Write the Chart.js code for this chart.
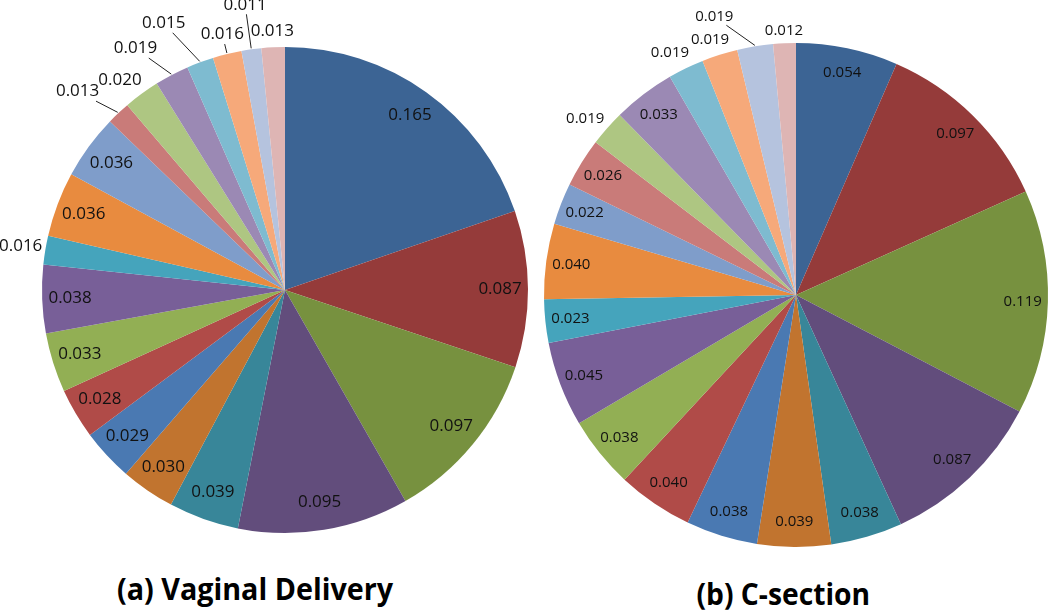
<!DOCTYPE html>
<html>
<head>
<meta charset="utf-8">
<script src="https://cdn.jsdelivr.net/npm/chart.js@4/dist/chart.umd.min.js"></script>
<style>
  body { margin: 0; background: #fff; width: 1050px; height: 610px; position: relative; overflow: hidden; }
  canvas { position: absolute; }
  #pieA { left: 0; top: 0; }
  #pieB { left: 530px; top: 0; }
  .caption {
    position: absolute; font-family: "Open Sans", sans-serif; font-weight: bold;
    font-size: 31px; color: #000; white-space: nowrap; line-height: 1;
    transform-origin: center center;
  }
</style>
</head>
<body>
<canvas id="pieA" width="560" height="560"></canvas>
<canvas id="pieB" width="520" height="560"></canvas>
<div class="caption" id="capA">(a) Vaginal Delivery</div>
<div class="caption" id="capB">(b) C-section</div>
<script>
// slice values, clockwise from 12 o'clock
var vaginalValues = [0.165, 0.087, 0.097, 0.095, 0.039, 0.030, 0.029, 0.028, 0.033, 0.038,
                     0.016, 0.036, 0.036, 0.013, 0.020, 0.019, 0.015, 0.016, 0.011, 0.013];
var csectionValues = [0.054, 0.097, 0.119, 0.087, 0.038, 0.039, 0.038, 0.040, 0.038, 0.045,
                      0.023, 0.040, 0.022, 0.026, 0.019, 0.033, 0.019, 0.019, 0.019, 0.012];
var sliceLabels = [];
for (var i = 1; i <= 20; i++) { sliceLabels.push('Category ' + i); }

// Excel-like palette: dark, base, light rounds
var sliceColors = [
    '#3C6494', '#953B3A', '#77913F', '#624D7C', '#388699', '#C1742F',
    '#4A79B2', '#B04B48', '#92AF54', '#785F98', '#45A4BC', '#E88B3F',
    '#7F9DCA', '#C97B79', '#AEC682', '#9B89B4', '#7EBBD0', '#F6A97A',
    '#B5C3DE', '#DEB5B4'
];

var labelFont = '"Open Sans", sans-serif';

// draws the value labels; small slices get outside labels (extra px, angle shift deg, leader)
var valueLabels = {
    id: 'valueLabels',
    afterDatasetsDraw: function(chart, args, opts) {
        var ctx = chart.ctx;
        var meta = chart.getDatasetMeta(0);
        var data = chart.data.datasets[0].data;
        ctx.save();
        ctx.font = opts.size + 'px ' + labelFont;
        ctx.fillStyle = '#111';
        ctx.strokeStyle = '#222';
        ctx.lineWidth = 1;
        ctx.textAlign = 'center';
        ctx.textBaseline = 'middle';
        meta.data.forEach(function(arc, i) {
            var text = data[i].toFixed(3);
            var mid = (arc.startAngle + arc.endAngle) / 2;
            var r = arc.outerRadius;
            var out = opts.outside[i];
            var x, y;
            if (!out) {
                x = arc.x + Math.cos(mid) * r * opts.inner;
                y = arc.y + Math.sin(mid) * r * opts.inner;
            } else {
                var a = mid + out[1] * Math.PI / 180;
                x = arc.x + Math.cos(a) * (r + out[0]);
                y = arc.y + Math.sin(a) * (r + out[0]);
                if (out[2]) {
                    var ex = arc.x + Math.cos(mid) * (r + 1);
                    var ey = arc.y + Math.sin(mid) * (r + 1);
                    var w = ctx.measureText(text).width / 2 + 3;
                    var h = opts.size / 2 + 1;
                    var dx = ex - x, dy = ey - y;
                    var t = Math.min(Math.abs(dx) > 0.01 ? w / Math.abs(dx) : 99,
                                     Math.abs(dy) > 0.01 ? h / Math.abs(dy) : 99);
                    ctx.beginPath();
                    ctx.moveTo(ex, ey);
                    ctx.lineTo(x + dx * t, y + dy * t);
                    ctx.stroke();
                }
            }
            ctx.fillText(text, x, y);
        });
        ctx.restore();
    }
};

function makePie(id, values, padding, labelOpts) {
    var ctx = document.getElementById(id).getContext('2d');
    return new Chart(ctx, {
        type: 'pie',
        data: {
            labels: sliceLabels,
            datasets: [{
                data: values,
                backgroundColor: sliceColors,
                borderWidth: 0,
                hoverOffset: 0
            }]
        },
        options: {
            responsive: false,
            animation: false,
            devicePixelRatio: 1,
            layout: { padding: padding },
            plugins: {
                legend: { display: false },
                tooltip: { enabled: false },
                valueLabels: labelOpts
            }
        },
        plugins: [valueLabels]
    });
}

makePie('pieA', vaginalValues, { left: 42, right: 32, top: 47, bottom: 27 }, {
    size: 17,
    inner: 0.885,
    outside: {
        10: [25, 0, false],
        13: [44, -3, true],
        14: [24, -2, false],
        15: [41, -4, true],
        16: [50, -4, true],
        17: [20, 0, true],
        18: [45, 0, true],
        19: [16, 0, false]
    }
});

makePie('pieB', csectionValues, { left: 14, right: 2, top: 43, bottom: 13 }, {
    size: 15,
    inner: 0.9,
    outside: {
        14: [23, -1.5, false],
        16: [21, -1.6, false],
        17: [17, -1, false],
        18: [38, -7, true],
        19: [13, 0, false]
    }
});

// captions: squeeze to the narrow bold face of the original
function placeCaption(id, cx, cy, targetWidth) {
    var el = document.getElementById(id);
    var w = el.offsetWidth, h = el.offsetHeight;
    el.style.left = (cx - w / 2) + 'px';
    el.style.top = (cy - h / 2) + 'px';
    el.style.transform = 'scaleX(' + (targetWidth / w) + ')';
}
placeCaption('capA', 255, 588, 276);
placeCaption('capB', 783, 593, 174);
</script>
</body>
</html>
